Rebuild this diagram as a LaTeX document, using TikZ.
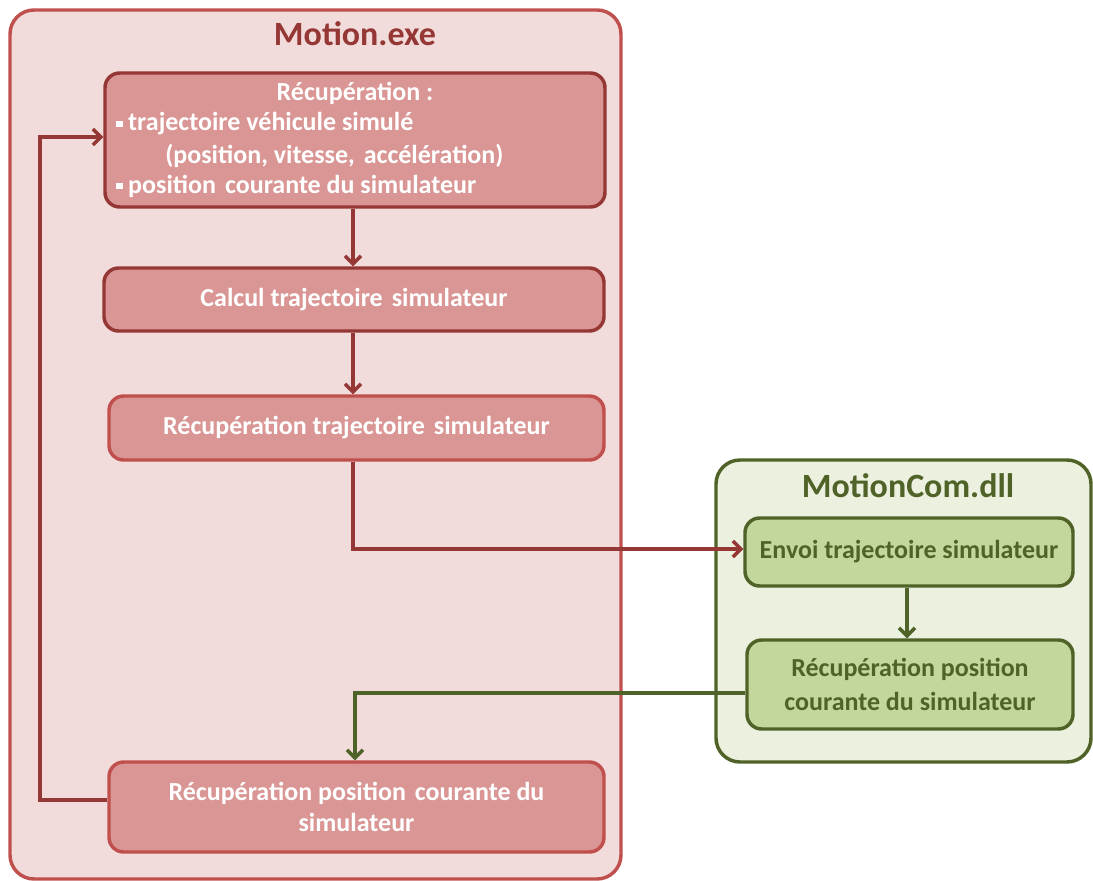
\documentclass[tikz,border=0pt]{standalone}
\usepackage{fontspec}
\setmainfont{Carlito}
\usetikzlibrary{arrows.meta,fit,calc}
\definecolor{redB}{HTML}{C0504D}
\definecolor{redD}{HTML}{953735}
\definecolor{redF}{HTML}{F2DCDB}
\definecolor{redI}{HTML}{D99694}
\definecolor{grnB}{HTML}{4F6228}
\definecolor{grnF}{HTML}{EBF1DE}
\definecolor{grnI}{HTML}{C3D69B}
\tikzset{
  outerbox/.style={draw, line width=2.6pt, rounded corners=18pt, inner sep=0pt},
  redbox/.style={draw=#1, fill=redI, line width=2.6pt, rounded corners=11pt, inner sep=0pt},
  grnbox/.style={draw=grnB, fill=grnI, line width=2.6pt, rounded corners=11pt, inner sep=0pt},
  boxtext/.style={text=white, font=\bfseries\fontsize{19.5}{23.5}\selectfont, inner sep=0pt, align=center},
  gtext/.style={text=grnB, font=\bfseries\fontsize{19.5}{25.5}\selectfont, inner sep=0pt, align=center},
  title/.style={font=\bfseries\fontsize{25.5}{28}\selectfont, inner sep=0pt},
  redarrow/.style={draw=redD, line width=2.6pt, -{Straight Barb[length=6pt,width=12pt,line width=2.6pt]}},
  grnarrow/.style={draw=grnB, line width=2.6pt, -{Straight Barb[length=6pt,width=12pt,line width=2.6pt]}}
}
\newcommand{\sqbul}{\raisebox{0.3ex}{\rule{0.24em}{0.24em}}\hspace{0.22em}}
\newcommand{\xs}{\hspace{0.12em}}
\begin{document}
\begin{tikzpicture}[x=0.75pt,y=-0.75pt]
\useasboundingbox (0,0) rectangle (1093,881);
% outer containers
\node[outerbox, draw=redB, fill=redF, fit={(10,10) (621,879)}] (motion) {};
\node[outerbox, draw=grnB, fill=grnF, fit={(716,460) (1091,762)}] (motioncom) {};
\node[title, text=redD] (tmotion) at (355,34) {Motion.exe};
\node[title, text=grnB] (tmotioncom) at (908,486) {MotionCom.dll};
% red boxes
\node[redbox=redD, fit={(105,73) (605,207)}] (b1) {};
\node[boxtext] (b1t0) at (355,93) {Récupération :};
\node[boxtext, anchor=west] (b1t1) at (116,124) {\sqbul trajectoire véhicule simulé};
\node[boxtext, anchor=west] (b1t2) at (165,156) {(position, vitesse,\xs{} accélération)};
\node[boxtext, anchor=west] (b1t3) at (116,186) {\sqbul position\xs{} courante du simulateur};
\node[redbox=redD, fit={(104,268) (604,331)}] (b2) {};
\node[boxtext] (b2t) at (b2.center) {Calcul trajectoire\xs{} simulateur};
\node[redbox=redB, fit={(109,396) (604,460)}] (b3) {};
\node[boxtext] (b3t) at (b3.center) {Récupération trajectoire\xs{} simulateur};
\node[redbox=redB, fit={(109,762) (604,852)}] (b4) {};
\node[boxtext] (b4t) at (b4.center) {Récupération position\xs{} courante du\\simulateur};
% green boxes
\node[grnbox, fit={(745,518) (1073,586)}] (g1) {};
\node[gtext] (g1t) at (g1.center) {Envoi trajectoire simulateur};
\node[grnbox, fit={(747,640) (1073,729)}] (g2) {};
\node[gtext] (g2t) at (g2.center) {Récupération position\\courante du simulateur};
% connectors
\coordinate (c1) at (353,549);
\coordinate (c2) at (355,693);
\coordinate (c3) at (40,800);
\coordinate (c4) at (40,137);
\draw[redarrow] (b1.south -| 353,0) -- (b2.north -| 353,0);
\draw[redarrow] (b2.south -| 353,0) -- (b3.north -| 353,0);
\draw[redarrow] (b3.south -| c1) -- (c1) -- (c1 -| g1.west);
\draw[grnarrow] (g1.south -| 907,0) -- (g2.north -| 907,0);
\draw[grnarrow] (g2.west |- c2) -- (c2) -- (c2 |- b4.north);
\draw[redarrow] (b4.west |- c3) -- (c3) -- (c4) -- (c4 -| b1.west);
\end{tikzpicture}
\end{document}
